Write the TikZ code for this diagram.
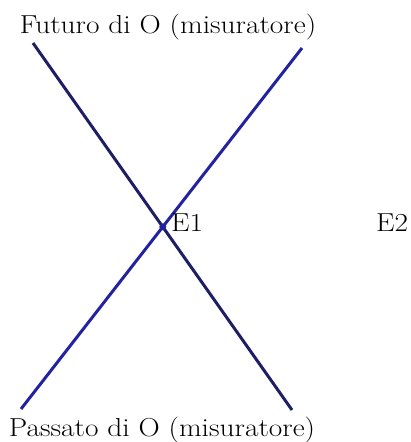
\documentclass[tikz,border=0pt]{standalone}
\usepackage{xcolor}
\usepackage{graphicx}
\usepackage{tikz}
\usetikzlibrary{positioning,calc}

\definecolor{navyline}{RGB}{30,30,100}
\definecolor{blueline}{RGB}{35,35,160}
\newcommand{\widetxt}[1]{\scalebox{1.13}[1]{#1}}

\begin{document}
\begin{tikzpicture}[
    x=1pt,y=-1pt,
    every node/.style={font=\fontsize{26}{30}\selectfont,inner sep=0pt},
    worldline/.style={line width=3pt},
    eventlabel/.style={anchor=base west},
    conelabel/.style={anchor=base},
]
\useasboundingbox (0,0) rectangle (411,442);
% Ends of the two light lines
\coordinate (fl) at (33,43);
\coordinate (pr) at (292,410);
\coordinate (fr) at (302,48);
\coordinate (pl) at (21,409);
\coordinate (o) at (intersection of fl--pr and fr--pl);
% Light lines
\draw[worldline,navyline] (fl) -- (pr);
\draw[worldline,blueline] (fr) -- (pl);
\fill[blueline] (o) circle (3.5);
% Labels
\node[conelabel] (futuro) at (168,33) {\widetxt{Futuro di O (misuratore)}};
\node[conelabel] (passato) at (162,436) {\widetxt{Passato di O (misuratore)}};
\node[eventlabel] (e1) at (171,231) {\widetxt{E1}};
\node[eventlabel] (e2) at (376,231) {\widetxt{E2}};
\end{tikzpicture}
\end{document}
